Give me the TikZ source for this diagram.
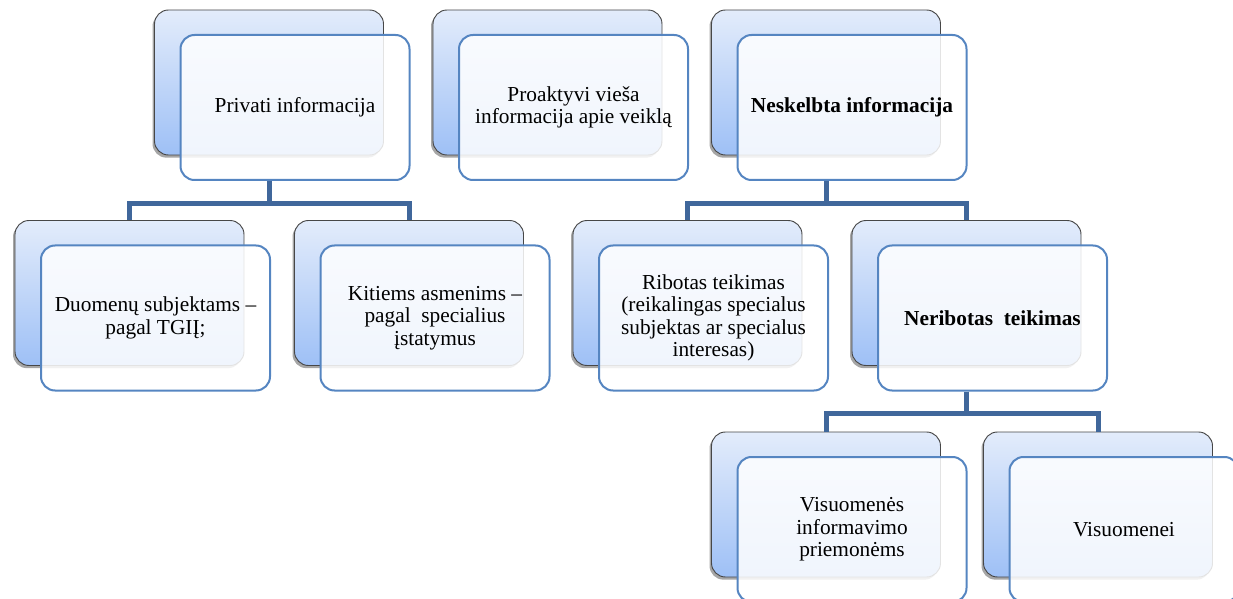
\documentclass[tikz,border=0pt]{standalone}
\usepackage{fontspec}
\setmainfont{Liberation Serif}
\usepackage{xcolor}
\usetikzlibrary{calc,shadows}

\definecolor{orgback}{HTML}{E3ECFB}
\definecolor{orgbackdeep}{HTML}{9EC0F6}
\definecolor{orgframe}{HTML}{5585C1}
\definecolor{orglink}{HTML}{40679B}

\begin{document}
\begin{tikzpicture}[
  x=0.75pt, y=-0.75pt,
  line join=miter,
  backbox/.style={rectangle, rounded corners=10.5pt, draw=black!72,
    line width=0.7pt, top color=orgback, bottom color=orgbackdeep,
    minimum width=171.75pt, minimum height=108.75pt, inner sep=0pt,
    drop shadow={shadow xshift=-1.5pt, shadow yshift=-2pt,
      fill=black, opacity=0.35}},
  frontbox/.style={rectangle, rounded corners=10.5pt, draw=orgframe,
    line width=1.5pt, fill=white, fill opacity=0.85, text opacity=1,
    minimum width=171.75pt, minimum height=108.75pt, inner sep=2pt,
    align=center, font=\fontsize{16pt}{16.8pt}\selectfont},
  link/.style={draw=orglink, line width=3.75pt}
]
\useasboundingbox (0,0) rectangle (1233,599);

% top row
\node[backbox] (privB) at (269,82.5) {};
\node[frontbox] (priv) at ($(privB)+(26,25)$) {Privati informacija};
\node[backbox] (proB) at (547.5,82.5) {};
\node[frontbox] (pro) at ($(proB)+(26,25)$)
  {Proaktyvi vieša\\ informacija apie veiklą};
\node[backbox] (nesB) at (826,82.5) {};
\node[frontbox] (nes) at ($(nesB)+(26,25)$)
  {\bfseries Neskelbta informacija};

% second row
\node[backbox] (duoB) at (129.5,293) {};
\node[frontbox] (duo) at ($(duoB)+(26,25)$)
  {Duomenų subjektams –\\ pagal TGIĮ;};
\node[backbox] (kitB) at (409,293) {};
\node[frontbox] (kit) at ($(kitB)+(26,25)$)
  {Kitiems asmenims –\\ pagal~~specialius\\ įstatymus};
\node[backbox] (ribB) at (687.5,293) {};
\node[frontbox] (rib) at ($(ribB)+(26,25)$)
  {Ribotas teikimas\\ (reikalingas specialus\\ subjektas ar specialus\\ interesas)};
\node[backbox] (nerB) at (966.5,293) {};
\node[frontbox] (ner) at ($(nerB)+(26,25)$)
  {\bfseries Neribotas~~teikimas};

% third row
\node[backbox] (visB) at (826,504.5) {};
\node[frontbox] (vis) at ($(visB)+(26,25)$)
  {Visuomenės\\ informavimo\\ priemonėms};
\node[backbox] (vsaB) at (1098,504.5) {};
\node[frontbox] (vsa) at ($(vsaB)+(26,25)$) {Visuomenei};

% connectors
\draw[link] (priv.south -| privB) -- ++(0,23) -| (duoB.north);
\draw[link] (priv.south -| privB) -- ++(0,23) -| (kitB.north);
\draw[link] (nes.south -| nesB) -- ++(0,23) -| (ribB.north);
\draw[link] (nes.south -| nesB) -- ++(0,23) -| (nerB.north);
\draw[link] (ner.south -| nerB) -- ++(0,22) -| (visB.north);
\draw[link] (ner.south -| nerB) -- ++(0,22) -| (vsaB.north);
\end{tikzpicture}
\end{document}
